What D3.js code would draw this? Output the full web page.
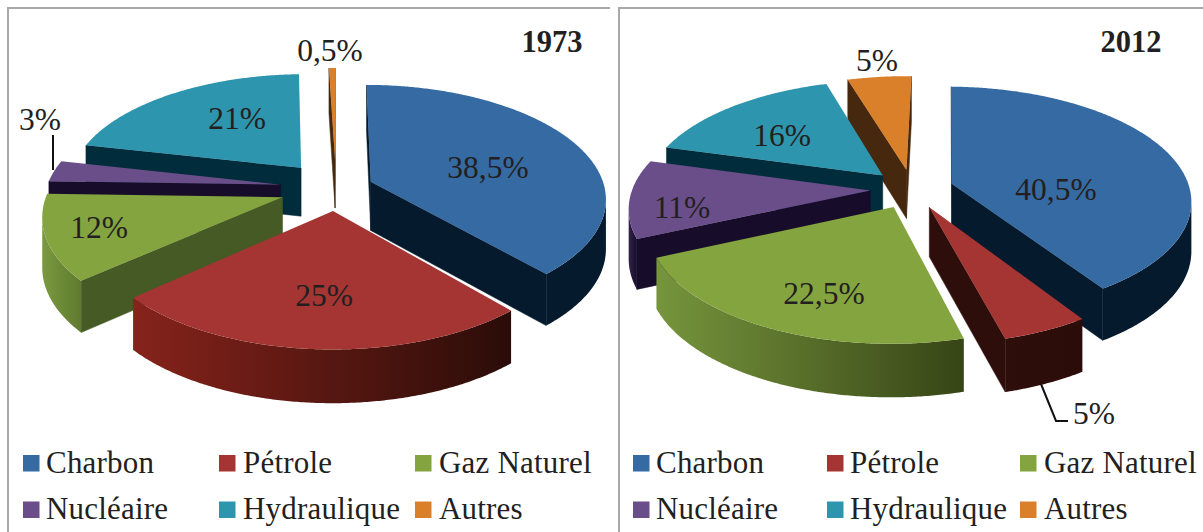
<!DOCTYPE html>
<html><head><meta charset="utf-8">
<script src="https://cdn.jsdelivr.net/npm/d3@7/dist/d3.min.js"></script>
<style>html,body{margin:0;background:#fff}svg{display:block;font-family:"Liberation Serif",serif;fill:#231f20}</style>
</head><body><svg id="c" width="1203" height="532"></svg>
<script>
const categories=["Charbon","Pétrole","Gaz Naturel","Nucléaire","Hydraulique","Autres"];
const values1973=[38.5,25,12,3,21,0.5];
const values2012=[40.5,5,22.5,11,16,5];
const topColors=["#356aa3","#a43533","#84a43f","#6a4e8a","#2e95ae","#da802b"];
const wallColors=["#051a2d","#2e0e0a","#465a25","#170c29","#002c3b","#46280f"];
const drawOrder=[5,4,3,2,0,1];

const panel1973={year:"1973",values:values1973,rotation:0,cx:336,cy:188,rx:234,ry:112,persp:0.14,depth:49,
  explode:[0.16,0.2,0.24,0.24,0.24,0.26],
  rimLeft:["#051a2d","#86231b","#7a9a3e","#170c29","#002c3b","#46280f"],
  rimRight:["#051a2d","#2b0c08","#5f7a30","#170c29","#002c3b","#46280f"],
  labelPos:[[488,178],[324,306],[99,238],[40,130],[237,129],[330,61]],
  leader:[[53,135],[53,170]],titleX:552,
  frame:[[8,532],[8,8],[610,8]],
  legendSwatch:[23,219,415],legendText:[46,243,439]};
const panel2012={year:"2012",values:values2012,rotation:1.2,cx:912,cy:189,rx:238,ry:112,persp:0.14,depth:49,
  explode:[0.175,0.175,0.175,0.175,0.175,0.175],
  rimLeft:["#051a2d","#2e0e0a","#76953c","#33234c","#002c3b","#46280f"],
  rimRight:["#051a2d","#2b0c08","#374516","#170c29","#002c3b","#46280f"],
  labelPos:[[1056,200],[1094,424],[824,304],[682,218],[782,146],[877,71]],
  leader:[[1041,384],[1056,421],[1068,421]],titleX:1131,
  frame:[[619,532],[619,8],[1203,8]],
  legendSwatch:[633,827,1020],legendText:[656,850,1044]};

const svg=d3.select("#c"),defs=svg.append("defs");
const lineGen=d3.line();
const fmt=v=>String(v).replace(".",",")+"%";
const color=d3.scaleOrdinal(categories,topColors);
const wall=d3.scaleOrdinal(categories,wallColors);

function drawPanel(P){
  const g=svg.append("g");
  g.append("path").attr("d",lineGen(P.frame)).attr("fill","none").attr("stroke","#a8a8a8").attr("stroke-width",2);
  const rot=P.rotation*Math.PI/180;
  const pieGen=d3.pie().sort(null).value(d=>d.v).startAngle(rot).endAngle(2*Math.PI+rot);
  const arcs=pieGen(categories.map((c,i)=>({c,i,v:P.values[i]})));
  // plane position -> screen, with perspective shrinking toward the back
  const project=(wx,wy)=>{
    const w=1+P.persp*wy;
    const x=P.cx+P.rx*wx/w, y=P.cy-P.ry*wy/w;
    return {top:[x,y],bot:[x,y+P.depth/Math.sqrt(w)]};
  };
  g.append("path").attr("d",lineGen(P.leader)).attr("fill","none").attr("stroke","#111").attr("stroke-width",2);
  drawOrder.forEach(idx=>{
    const a=arcs[idx],e=P.explode[idx],mid=(a.startAngle+a.endAngle)/2;
    const ox=e*Math.sin(mid),oy=e*Math.cos(mid);
    const n=Math.max(2,Math.ceil((a.endAngle-a.startAngle)/0.0087));
    const rim=d3.range(n+1).map(k=>{
      const t=a.startAngle+(a.endAngle-a.startAngle)*k/n;
      return project(ox+Math.sin(t),oy+Math.cos(t));
    });
    const apex=project(ox,oy);
    const sl=g.append("g");
    const quad=(p,q)=>sl.append("path")
      .attr("d",lineGen([p.top,q.top,q.bot,p.bot])+"Z")
      .attr("fill",wall(a.data.c)).attr("stroke",wall(a.data.c)).attr("stroke-width",0.5);
    const first=rim[0],last=rim[n];
    if(first.top[0]<apex.top[0]) quad(apex,first);
    if(apex.top[0]<last.top[0]) quad(last,apex);
    // rim: contiguous runs that face the viewer
    const gid=`rim${P.year}_${idx}`;
    const gr=defs.append("linearGradient").attr("id",gid);
    gr.append("stop").attr("offset",0).attr("stop-color",P.rimLeft[idx]);
    gr.append("stop").attr("offset",1).attr("stop-color",P.rimRight[idx]);
    let run=[];
    const flush=()=>{
      if(run.length>1){
        const pts=run.map(p=>p.top).concat(run.map(p=>p.bot).reverse());
        sl.append("path").attr("d",lineGen(pts)+"Z").attr("fill",`url(#${gid})`);
      }
      run=[];
    };
    for(let k=0;k<n;k++){
      if(rim[k+1].top[0]<rim[k].top[0]){ if(!run.length)run.push(rim[k]); run.push(rim[k+1]); }
      else flush();
    }
    flush();
    sl.append("path").attr("d",lineGen([apex.top,...rim.map(p=>p.top)])+"Z").attr("fill",color(a.data.c));
  });
  // data labels
  P.values.forEach((v,i)=>{
    const pos=P.labelPos[i];
    g.append("text").attr("x",pos[0]).attr("y",pos[1]).attr("text-anchor","middle")
      .attr("font-size",31.5).text(fmt(v));
  });
  g.append("text").attr("x",P.titleX).attr("y",52).attr("text-anchor","middle").attr("font-size",30.5)
    .attr("font-weight","bold").text(P.year);
  // legend
  categories.forEach((c,i)=>{
    const col=i%3,row=Math.floor(i/3);
    const sy=[455,501.5][row];
    g.append("rect").attr("x",P.legendSwatch[col]).attr("y",sy).attr("width",16.5).attr("height",16.5).attr("fill",color(c));
    g.append("text").attr("x",P.legendText[col]).attr("y",[473,519][row]).attr("font-size",31).attr("letter-spacing",0.2).text(c);
  });
}
drawPanel(panel1973);
drawPanel(panel2012);
</script></body></html>
